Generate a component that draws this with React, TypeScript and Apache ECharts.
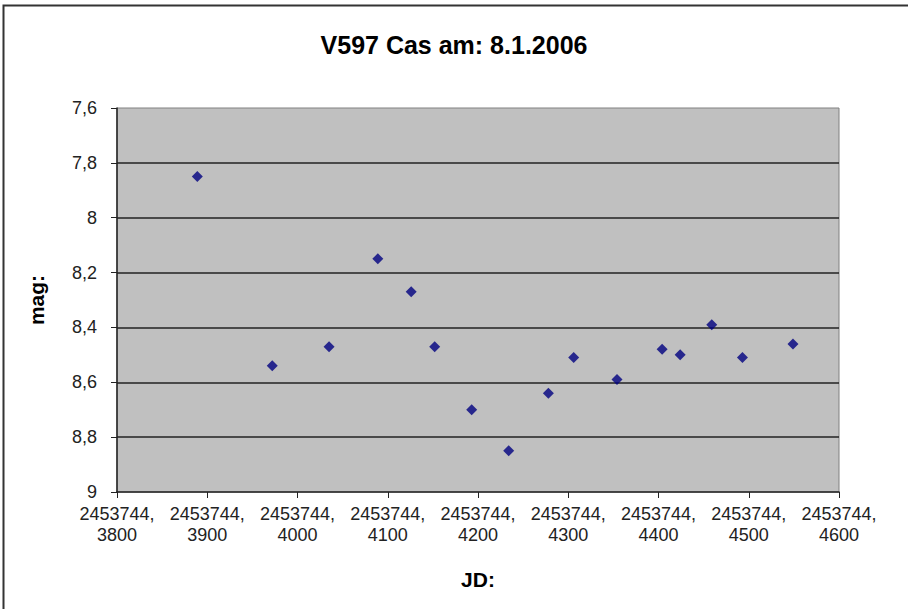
import React, { useEffect, useRef } from "react";
import * as echarts from "echarts";

const TITLE = "V597 Cas am: 8.1.2006";
const JD_BASE = "2453744";
// fractional part of JD (x 10^4)
const jdFrac = [3889, 3972, 4035, 4089, 4126, 4152, 4193, 4234, 4278, 4306, 4354, 4404, 4424, 4459, 4493, 4549];
const mag = [7.85, 8.54, 8.47, 8.15, 8.27, 8.47, 8.70, 8.85, 8.64, 8.51, 8.59, 8.48, 8.50, 8.39, 8.51, 8.46];
const xMin = 3800;
const xMax = 4600;
const xStep = 100;
const yMin = 7.6;
const yMax = 9;
const yStep = 0.2;

export default function App() {
  const ref = useRef<HTMLDivElement>(null);
  useEffect(() => {
    document.body.style.margin = "0";
    const chart = echarts.init(ref.current!, null, { renderer: "svg" });
    const font = "'Liberation Sans', Arial, sans-serif";
    chart.setOption({
      animation: false,
      backgroundColor: "#ffffff",
      title: {
        text: TITLE,
        left: "center",
        top: 27,
        textStyle: { fontFamily: font, fontSize: 25, fontWeight: "bold", color: "#000" },
      },
      graphic: [
        {
          type: "rect",
          shape: { x: 3.5, y: 5.5, width: 1000, height: 1000 },
          style: { fill: "none", stroke: "#333", lineWidth: 2 },
          silent: true,
        },
      ],
      grid: {
        left: 117,
        top: 108,
        width: 722,
        height: 384,
        show: true,
        backgroundColor: "#c0c0c0",
        borderColor: "#808080",
        borderWidth: 1,
      },
      xAxis: {
        type: "value",
        min: xMin,
        max: xMax,
        interval: xStep,
        name: "JD:",
        nameLocation: "middle",
        nameGap: 77,
        nameTextStyle: { fontFamily: font, fontSize: 21, fontWeight: "bold", color: "#000" },
        axisLine: { show: true, lineStyle: { color: "#222", width: 1.5 } },
        axisTick: { show: true, length: 6, lineStyle: { color: "#222" } },
        splitLine: { show: false },
        axisLabel: {
          fontFamily: font,
          fontSize: 18,
          color: "#222",
          lineHeight: 21,
          margin: 11,
          formatter: (v: number) => `${JD_BASE},\n${v}`,
        },
      },
      yAxis: {
        type: "value",
        inverse: true,
        min: yMin,
        max: yMax,
        interval: yStep,
        name: "mag:",
        nameLocation: "middle",
        nameGap: 70,
        nameRotate: 90,
        nameTextStyle: { fontFamily: font, fontSize: 21, fontWeight: "bold", color: "#000" },
        axisLine: { show: true, lineStyle: { color: "#222", width: 1.5 } },
        axisTick: { show: true, length: 6, lineStyle: { color: "#222" } },
        splitLine: {
          show: true,
          showMinLine: false,
          showMaxLine: false,
          lineStyle: { color: "#222", width: 1.5 },
        },
        axisLabel: {
          fontFamily: font,
          fontSize: 18,
          color: "#222",
          margin: 20,
          formatter: (v: number) => String(Math.round(v * 10) / 10).replace(".", ","),
        },
      },
      series: [
        {
          type: "scatter",
          symbol: "diamond",
          symbolSize: 11,
          itemStyle: { color: "#000080" },
          data: jdFrac.map((x, i) => [x, mag[i]]),
        },
      ],
    });
    return () => chart.dispose();
  }, []);
  return <div ref={ref} style={{ width: 908, height: 609 }} />;
}
